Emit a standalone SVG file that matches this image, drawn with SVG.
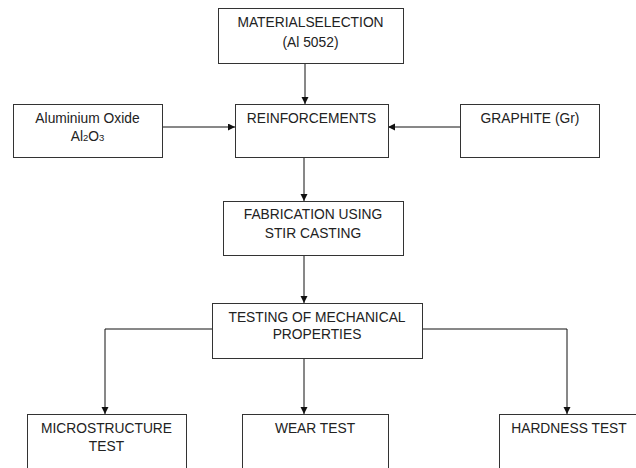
<svg xmlns="http://www.w3.org/2000/svg" width="636" height="468" viewBox="0 0 636 468">
<style>
.box{fill:#fff;stroke:#333;stroke-width:1}
.t{font-family:"Liberation Sans",Arial,sans-serif;font-size:13.8px;fill:#222;text-anchor:middle}
.ln{fill:none;stroke:#111;stroke-width:1}
</style>
<defs>
<marker id="ah" markerUnits="userSpaceOnUse" markerWidth="8" markerHeight="8" refX="7" refY="3.5" orient="auto">
<path d="M0,0 L7,3.5 L0,7 z" fill="#111"/>
</marker>
</defs>
<rect width="636" height="468" fill="#fff"/>
<g id="connectors">
<line class="ln" x1="305" y1="63" x2="305" y2="104" marker-end="url(#ah)"/>
<line class="ln" x1="162" y1="127" x2="235" y2="127" marker-end="url(#ah)"/>
<line class="ln" x1="460" y1="127" x2="388" y2="127" marker-end="url(#ah)"/>
<line class="ln" x1="304" y1="157" x2="304" y2="201" marker-end="url(#ah)"/>
<line class="ln" x1="304" y1="255" x2="304" y2="303" marker-end="url(#ah)"/>
<polyline class="ln" points="212,329 105,329 105,414" marker-end="url(#ah)"/>
<line class="ln" x1="304" y1="358" x2="304" y2="414" marker-end="url(#ah)"/>
<polyline class="ln" points="422,329 567,329 567,414" marker-end="url(#ah)"/>
</g>
<g id="material">
<rect class="box" x="218.5" y="8.5" width="185" height="55"/>
<text class="t" x="310.5" y="27">MATERIALSELECTION</text>
<text class="t" x="310.5" y="47">(Al 5052)</text>
</g>
<g id="reinforcements">
<rect class="box" x="235.5" y="104.5" width="153" height="53"/>
<text class="t" x="311.5" y="123">REINFORCEMENTS</text>
</g>
<g id="alumina">
<rect class="box" x="13.5" y="104.5" width="149" height="53"/>
<text class="t" x="87.5" y="123">Aluminium Oxide</text>
<text class="t" x="87.5" y="141">Al<tspan font-size="9.5">2</tspan>O<tspan font-size="9.5">3</tspan></text>
</g>
<g id="graphite">
<rect class="box" x="460.5" y="104.5" width="139" height="53"/>
<text class="t" x="530" y="123">GRAPHITE (Gr)</text>
</g>
<g id="fabrication">
<rect class="box" x="223.5" y="201.5" width="180" height="54"/>
<text class="t" x="313" y="219">FABRICATION USING</text>
<text class="t" x="313" y="238">STIR CASTING</text>
</g>
<g id="testing">
<rect class="box" x="212.5" y="303.5" width="210" height="55"/>
<text class="t" x="317" y="322">TESTING OF MECHANICAL</text>
<text class="t" x="317" y="339">PROPERTIES</text>
</g>
<g id="microstructure">
<rect class="box" x="27.5" y="414.5" width="159" height="70"/>
<text class="t" x="106.5" y="433">MICROSTRUCTURE</text>
<text class="t" x="106.5" y="451">TEST</text>
</g>
<g id="wear">
<rect class="box" x="242.5" y="414.5" width="146" height="70"/>
<text class="t" x="315" y="433">WEAR TEST</text>
</g>
<g id="hardness">
<rect class="box" x="499.5" y="414.5" width="145" height="70"/>
<text class="t" x="569" y="433">HARDNESS TEST</text>
</g>
</svg>
